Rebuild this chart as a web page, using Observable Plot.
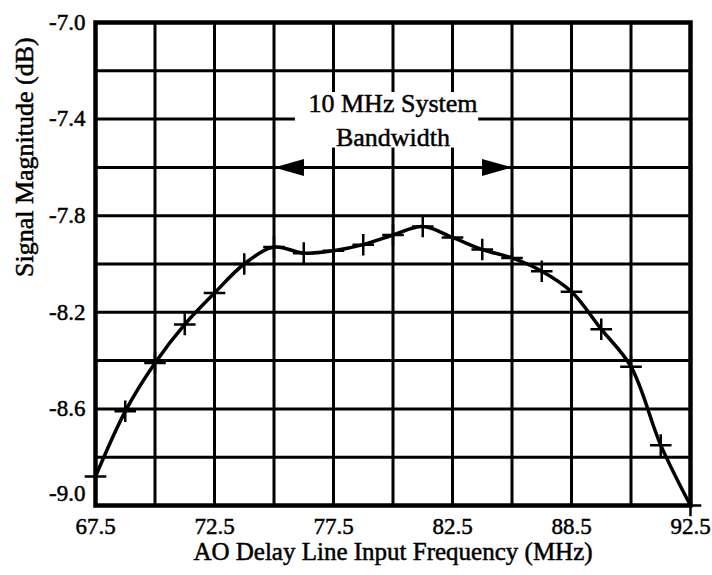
<!DOCTYPE html>
<html><head><meta charset="utf-8">
<script src="https://cdn.jsdelivr.net/npm/d3@7"></script>
<script src="https://cdn.jsdelivr.net/npm/@observablehq/plot@0.6"></script>
<style>
html,body{margin:0;padding:0;background:#fff;}
#chart svg{display:block;}
#chart svg, #chart svg text{font-family:"Liberation Serif","DejaVu Serif","Noto Serif",serif !important;}
#chart svg text{stroke:black;stroke-width:0.5px;}
</style>
</head><body><div id="chart"></div>
<script>
// Data
const frequency = [67.5, 68.75, 70, 71.25, 72.5, 73.75, 75, 76.25, 77.5, 78.75, 80, 81.25, 82.5, 83.75, 85, 86.25, 87.5, 88.75, 90, 91.25, 92.5];
const magnitude = [-8.88, -8.61, -8.41, -8.25, -8.12, -8.00, -7.93, -7.955, -7.945, -7.92, -7.88, -7.845, -7.89, -7.94, -7.975, -8.03, -8.115, -8.27, -8.425, -8.75, -9.0];

const xTickValues = [67.5, 72.5, 77.5, 82.5, 87.5, 92.5];
const xTickLabels = ["67.5", "72.5", "77.5", "82.5", "88.5", "92.5"];
const yTickValues = [-7.0, -7.4, -7.8, -8.2, -8.6];
const yBottomTick = [-9.0];
const xGridLines = [67.5, 70, 72.5, 75, 77.5, 80, 82.5, 85, 87.5, 90, 92.5];
const yGridLines = [-7.0, -7.2, -7.4, -7.6, -7.8, -8.0, -8.2, -8.4, -8.6, -8.8, -9.0];

// Annotation: 10 MHz system bandwidth
const bandStart = [75];
const bandEnd = [85];
const bandLevel = -7.6;
const bandLabelText = ["10 MHz System", "Bandwidth"];
const bandLabelY = [-7.335, -7.475];
const bandLabelX = 80;
const bandBox = [{x1: 75.9, x2: 83.6, y1: -7.29, y2: -7.52}];

const xTitle = "AO Delay Line Input Frequency (MHz)";
const yTitle = "Signal Magnitude (dB)";

const points = frequency.map((f, i) => ({f, m: magnitude[i]}));

const leftHead = {draw(ctx) { ctx.moveTo(0, 0); ctx.lineTo(30, -8.5); ctx.lineTo(30, 8.5); ctx.closePath(); }};
const rightHead = {draw(ctx) { ctx.moveTo(0, 0); ctx.lineTo(-30, -8.5); ctx.lineTo(-30, 8.5); ctx.closePath(); }};

const font = "Liberation Serif, DejaVu Serif, serif";

const chart = Plot.plot({
  width: 712,
  height: 575,
  marginLeft: 95,
  marginRight: 22,
  marginTop: 22,
  marginBottom: 70,
  style: {fontFamily: font, fontSize: "23px", color: "black", background: "white"},
  x: {domain: [67.5, 92.5]},
  y: {domain: [-9.0, -7.0]},
  marks: [
    Plot.ruleX(xGridLines, {stroke: "black", strokeWidth: 3}),
    Plot.ruleY(yGridLines, {stroke: "black", strokeWidth: 3}),
    Plot.rect(bandBox, {x1: "x1", x2: "x2", y1: "y1", y2: "y2", fill: "white"}),
    Plot.text(bandLabelText, {x: () => bandLabelX, y: (d, i) => bandLabelY[i], text: d => d, fontSize: 26, fill: "black"}),
    Plot.ruleY([bandLevel], {x1: () => bandStart[0], x2: () => bandEnd[0], stroke: "black", strokeWidth: 3}),
    Plot.dot(bandStart, {x: d => d, y: () => bandLevel, symbol: leftHead, fill: "black", stroke: "none"}),
    Plot.dot(bandEnd, {x: d => d, y: () => bandLevel, symbol: rightHead, fill: "black", stroke: "none"}),
    Plot.line(points, {x: "f", y: "m", curve: "catmull-rom", stroke: "black", strokeWidth: 3.5}),
    Plot.dot(points, {x: "f", y: "m", symbol: "plus", r: 7, stroke: "black", strokeWidth: 2.5}),
    Plot.frame({stroke: "black", strokeWidth: 4.5}),
    Plot.axisX(xTickValues, {tickSize: 0, tickPadding: 12, tickFormat: d => xTickLabels[xTickValues.indexOf(d)], label: null, fontSize: 23}),
    Plot.axisY(yTickValues, {tickSize: 0, tickPadding: 10, tickFormat: d => d.toFixed(1), label: null, fontSize: 23}),
    Plot.axisY(yBottomTick, {tickSize: 0, tickPadding: 10, tickFormat: d => d.toFixed(1), label: null, fontSize: 23, dy: -12}),
    Plot.text([xTitle], {frameAnchor: "bottom", dy: 54, fontSize: 25, fill: "black"}),
    Plot.text([yTitle], {frameAnchor: "left", rotate: -90, dx: -71, dy: 13, fontSize: 26, fill: "black"})
  ]
});
document.getElementById("chart").appendChild(chart);
</script>
</body></html>
